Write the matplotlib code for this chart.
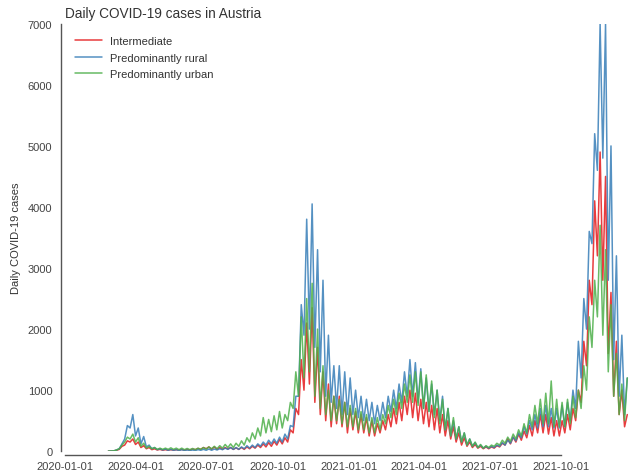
import matplotlib.pyplot as plt
import matplotlib.dates as mdates
import numpy as np
import pandas as pd
import seaborn as sns

sns.set_style("white")
plt.rcParams['font.family'] = ['Liberation Sans', 'DejaVu Sans']

# values every 3.5 days (weekly low, weekly high), starting 2020-02-26
start = "2020-02-26"

intermediate = [
    0, 2, 5, 15, 30, 80, 100, 170, 150, 200, 110, 150, 60, 90, 40, 60,
    25, 40, 20, 30, 15, 25, 15, 25, 15, 25, 15, 30, 15, 30, 20, 35,
    25, 45, 30, 60, 40, 70, 30, 70, 30, 60, 30, 60, 35, 60, 30, 55,
    30, 60, 30, 70, 40, 80, 50, 100, 60, 120, 70, 140, 80, 160, 100, 190,
    120, 220, 150, 350, 300, 700, 600, 1500, 1000, 2100, 1100, 2350, 800, 1700, 600, 1300,
    500, 1100, 400, 900, 450, 900, 400, 800, 300, 700, 350, 650, 300, 600, 300, 550,
    250, 500, 250, 450, 300, 500, 350, 600, 400, 700, 450, 800, 500, 900, 600, 1000,
    550, 950, 500, 850, 450, 800, 400, 750, 350, 700, 300, 600, 250, 500, 200, 400,
    150, 300, 100, 220, 80, 150, 60, 110, 50, 80, 40, 70, 40, 70, 50, 90,
    70, 130, 100, 200, 120, 230, 150, 280, 180, 330, 220, 420, 250, 500, 300, 600,
    300, 600, 280, 550, 250, 500, 250, 500, 300, 600, 350, 700, 500, 1000, 800, 1800,
    1400, 2800, 2400, 4100, 3200, 4900, 2800, 4500, 1600, 2600, 900, 1800, 600, 1000, 400, 600,
]

rural = [
    0, 2, 5, 20, 40, 120, 200, 420, 380, 600, 250, 380, 120, 240, 70, 100,
    40, 60, 25, 40, 20, 35, 15, 30, 15, 25, 10, 25, 10, 20, 10, 20,
    10, 25, 15, 30, 15, 35, 15, 35, 20, 40, 25, 50, 30, 60, 30, 60,
    30, 70, 40, 90, 50, 100, 60, 120, 80, 150, 100, 180, 120, 200, 130, 230,
    150, 280, 200, 420, 400, 900, 900, 2400, 1900, 3800, 2000, 4050, 1700, 3300, 1300, 2800,
    900, 1900, 800, 1400, 700, 1400, 600, 1300, 600, 1200, 600, 1000, 550, 900, 500, 850,
    500, 800, 450, 750, 500, 800, 550, 900, 650, 1000, 700, 1100, 800, 1300, 900, 1500,
    900, 1450, 800, 1350, 700, 1200, 650, 1100, 600, 1000, 500, 900, 350, 700, 250, 500,
    200, 400, 150, 300, 100, 200, 80, 140, 60, 100, 50, 80, 50, 80, 60, 100,
    80, 140, 100, 180, 130, 230, 170, 300, 220, 400, 280, 500, 350, 600, 380, 700,
    400, 750, 400, 700, 380, 700, 380, 750, 400, 800, 500, 1000, 700, 1800, 1200, 2500,
    2000, 3600, 3400, 5200, 4600, 7000, 4800, 7000, 2800, 5000, 1500, 3200, 900, 1900, 600, 1200,
]

urban = [
    0, 3, 5, 20, 40, 100, 150, 230, 200, 280, 150, 220, 80, 130, 50, 80,
    40, 60, 30, 50, 30, 50, 30, 55, 30, 50, 25, 50, 25, 45, 25, 45,
    25, 50, 30, 60, 35, 70, 40, 80, 40, 90, 50, 110, 60, 120, 60, 130,
    80, 170, 100, 220, 150, 300, 200, 380, 250, 550, 300, 520, 320, 580, 350, 650,
    380, 600, 500, 800, 700, 1300, 900, 2200, 1200, 2500, 1300, 2750, 900, 2000, 700, 1400,
    600, 1000, 500, 900, 500, 850, 450, 800, 400, 750, 400, 700, 350, 650, 350, 600,
    300, 550, 300, 550, 350, 600, 450, 750, 550, 850, 600, 950, 700, 1100, 800, 1250,
    800, 1300, 750, 1300, 700, 1250, 650, 1150, 550, 1000, 450, 850, 350, 700, 250, 550,
    200, 400, 150, 300, 100, 200, 80, 150, 60, 110, 50, 90, 60, 100, 80, 130,
    100, 180, 130, 230, 160, 280, 200, 350, 250, 450, 300, 600, 400, 750, 450, 850,
    450, 950, 450, 1150, 400, 850, 400, 800, 400, 850, 450, 900, 550, 1000, 700, 1400,
    1000, 2200, 1700, 2800, 2200, 3700, 1900, 3300, 1300, 2400, 900, 1600, 600, 1100, 500, 1200,
]

labels = ["Intermediate", "Predominantly rural", "Predominantly urban"]
colors = ["#e41a1c", "#377eb8", "#4daf4a"]

dates = pd.date_range(start, periods=len(rural), freq="84h")

fig = plt.figure(figsize=(6.3, 4.77), dpi=100)
ax = fig.add_axes([0.103, 0.052, 0.897, 0.896])

for vals, lab, c in zip([intermediate, rural, urban], labels, colors):
    ax.plot(dates, vals, color=c, lw=1.1, alpha=0.85, label=lab)

ax.set_xlim(pd.Timestamp("2020-01-01"), pd.Timestamp("2021-12-29"))
ax.set_ylim(0, 7000)
ax.xaxis.set_major_locator(mdates.MonthLocator(bymonth=[1, 4, 7, 10]))
ax.xaxis.set_major_formatter(mdates.DateFormatter("%Y-%m-%d"))
ax.set_yticks(np.arange(0, 7001, 1000))
ax.tick_params(length=0, labelsize=8, labelcolor="#444444")
ax.tick_params(axis="y", pad=6)
ax.tick_params(axis="x", pad=4)

ax.set_ylabel("Daily COVID-19 cases", fontsize=8, color="#333333", labelpad=5)
ax.set_title("Daily COVID-19 cases in Austria", fontsize=9.8, color="#333333",
             loc="left", pad=5)
ax.legend(loc="upper left", frameon=False, fontsize=8, handlelength=2.4,
          labelspacing=0.6, bbox_to_anchor=(0.0, 0.995), labelcolor="#333333")

sns.despine(ax=ax, offset=3, trim=True)
for s in ["left", "bottom"]:
    ax.spines[s].set_color("#555555")
    ax.spines[s].set_linewidth(1.0)

fig.savefig("out.png", dpi=100)
